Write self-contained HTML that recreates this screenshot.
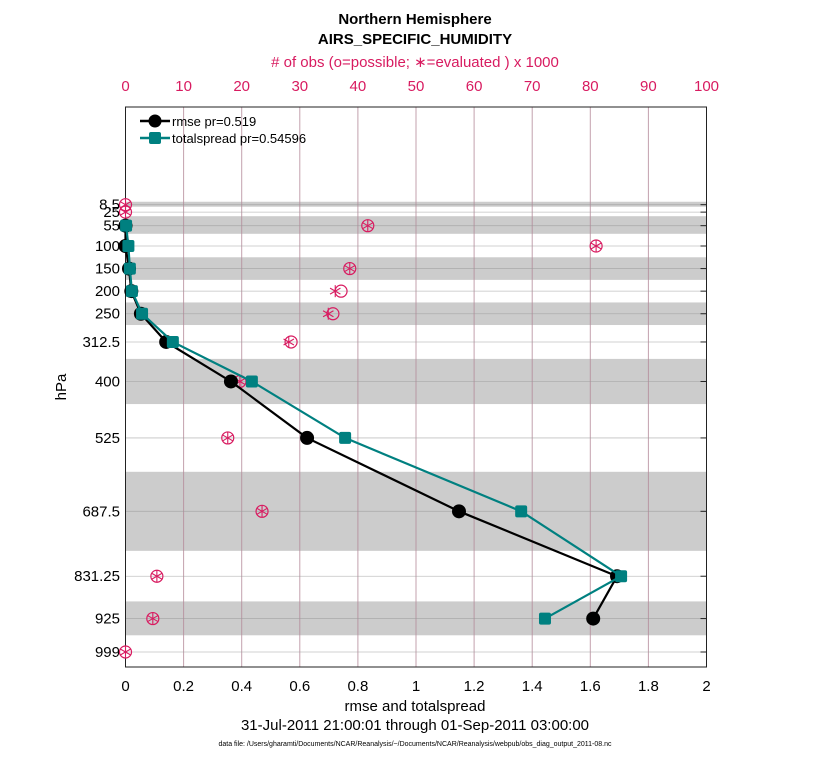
<!DOCTYPE html>
<html><head><meta charset="utf-8"><style>
body{margin:0;background:#fff;font-family:"Liberation Sans",Arial,sans-serif}
svg text{font-family:"Liberation Sans",Arial,sans-serif}
</style></head><body>
<svg id="chart" width="830" height="760" xmlns="http://www.w3.org/2000/svg">
<text x="415" y="24" text-anchor="middle" font-size="15" font-weight="bold">Northern Hemisphere</text>
<text x="415" y="44" text-anchor="middle" font-size="15" font-weight="bold">AIRS_SPECIFIC_HUMIDITY</text>
<text x="415" y="67" text-anchor="middle" font-size="15" fill="#d81b60"># of obs (o=possible; ∗=evaluated ) x 1000</text>
<g id="bands"></g><g id="grid"></g><g id="axes"></g><g id="obs"></g><g id="series"></g>
<g>
<line x1="140" y1="121" x2="170" y2="121" stroke="#000" stroke-width="2.5"/><circle cx="155" cy="121" r="6.5" fill="#000"/>
<text x="172" y="126" font-size="13">rmse pr=0.519</text>
<line x1="140" y1="138" x2="170" y2="138" stroke="#008080" stroke-width="2.5"/><rect x="149" y="132" width="12" height="12" rx="2" fill="#008080"/>
<text x="172" y="143" font-size="13">totalspread pr=0.54596</text>
</g>
<text transform="translate(66,387) rotate(-90)" text-anchor="middle" font-size="15">hPa</text>
<text x="415" y="711" text-anchor="middle" font-size="15">rmse and totalspread</text>
<text x="415" y="730" text-anchor="middle" font-size="15">31-Jul-2011 21:00:01 through 01-Sep-2011 03:00:00</text>
<text x="415" y="746" text-anchor="middle" font-size="7">data file: /Users/gharamti/Documents/NCAR/Reanalysis/~/Documents/NCAR/Reanalysis/webpub/obs_diag_output_2011-08.nc</text>
</svg>
<script>
const levels=[8.5,25,55,100,150,200,250,312.5,400,525,687.5,831.25,925,999];
const levelLabels=["8.5","25","55","100","150","200","250","312.5","400","525","687.5","831.25","925","999"];
const rmse=[null,null,0.0,0.0,0.012,0.02,0.053,0.14,0.363,0.625,1.148,1.692,1.61,null];
const spread=[null,null,0.002,0.01,0.015,0.022,0.057,0.163,0.435,0.756,1.362,1.706,1.444,null];
const obsPossible=[0,0,41.7,81,38.6,37.1,35.7,28.5,19.7,17.6,23.5,5.4,4.7,0];
const obsUsed=[0,0,41.7,81,38.6,36.1,34.9,28.1,19.7,17.6,23.5,5.4,4.7,0];
const bandLo=[2,34,125,225,350,600,887];
const bandHi=[13,73,175,275,450,775,962];
const xTicks=[0,0.2,0.4,0.6,0.8,1,1.2,1.4,1.6,1.8,2];
const topTicks=[0,10,20,30,40,50,60,70,80,90,100];
const L=125.5,R=706.5,T=107,B=667;
const xs=v=>L+(v/2)*(R-L);
const xo=v=>L+(v/100)*(R-L);
const ys=p=>246+(p-100)*0.4516;
const NS="http://www.w3.org/2000/svg";
function mk(parent,tag,attrs){const e=document.createElementNS(NS,tag);for(const k in attrs)e.setAttribute(k,attrs[k]);document.getElementById(parent).appendChild(e);return e;}
bandLo.forEach((lo,i)=>{const e=mk('bands','rect',{x:L,y:ys(lo),width:R-L,height:ys(bandHi[i])-ys(lo),fill:'#cccccc'});

});
xTicks.forEach(v=>{const e=mk('grid','line',{x1:xs(v),x2:xs(v),y1:T,y2:B,stroke:'#b48a98','stroke-width':1,'stroke-opacity':0.8});


const t=mk('axes','text',{x:xs(v),y:691,'text-anchor':'middle','font-size':15});t.textContent=String(v);

});
topTicks.forEach(v=>{const t=mk('axes','text',{x:xo(v),y:91,'text-anchor':'middle','font-size':15,fill:'#d81b60'});t.textContent=String(v);

});
levels.forEach((p,i)=>{const e=mk('grid','line',{x1:L,x2:R,y1:ys(p),y2:ys(p),stroke:'#999999','stroke-width':0.8,'stroke-opacity':0.6});


mk('axes','line',{x1:R-6,x2:R,y1:ys(p),y2:ys(p),stroke:'#222'});
const t=mk('axes','text',{x:120,y:ys(p)+5,'text-anchor':'end','font-size':15});t.textContent=levelLabels[i];

});
const box=mk('axes','rect',{x:L,y:T,width:R-L,height:B-T,fill:'none',stroke:'#222','stroke-width':1});


levels.forEach((p,i)=>{const cx=xo(obsPossible[i]),cy=ys(p);
const c=mk('obs','circle',{cx:cx,cy:cy,r:6,fill:'none',stroke:'#d81b60','stroke-width':1.2});


const sx=xo(obsUsed[i]);const g=mk('obs','g',{stroke:'#d81b60','stroke-width':1.1});


for(let a=0;a<3;a++){const ang=a*Math.PI/3+Math.PI/2;const l=document.createElementNS(NS,'line');
l.setAttribute('x1',sx+6*Math.cos(ang));l.setAttribute('y1',cy+6*Math.sin(ang));l.setAttribute('x2',sx-6*Math.cos(ang));l.setAttribute('y2',cy-6*Math.sin(ang));g.appendChild(l);}});
function series(vals,color,sq,name){const pts=[];vals.forEach((v,i)=>{if(v!==null)pts.push([xs(v),ys(levels[i])]);});
const pl=mk('series','polyline',{points:pts.map(p=>p.join(',')).join(' '),fill:'none',stroke:color,'stroke-width':2.2});


pts.forEach(p=>{const m=sq?mk('series','rect',{x:p[0]-6,y:p[1]-6,width:12,height:12,rx:2,fill:color}):mk('series','circle',{cx:p[0],cy:p[1],r:7,fill:color});

});}
series(rmse,'#000',false,'rmse');
series(spread,'#008080',true,'totalspread');
</script>
</body></html>
